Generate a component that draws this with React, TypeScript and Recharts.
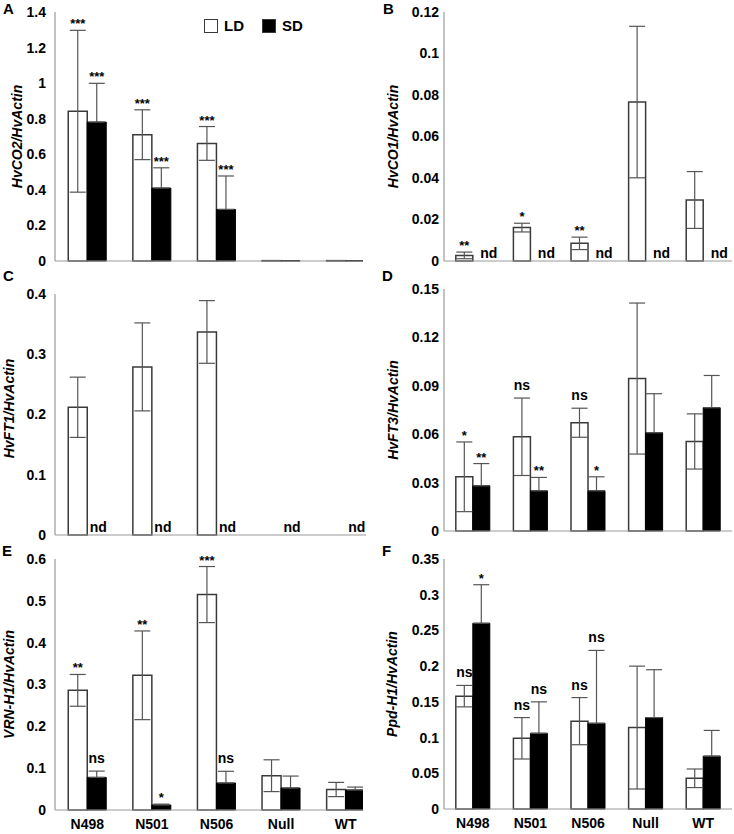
import React from "react";
import { BarChart, Bar, XAxis, YAxis, ErrorBar, LabelList, Legend } from "recharts";

const lines = ["N498", "N501", "N506", "Null", "WT"];

// A: HvCO2/HvActin
const co2LD = [0.842, 0.71, 0.661, 0.002, 0.002];
const co2LDErr = [0.455, 0.14, 0.095, 0, 0];
const co2SD = [0.781, 0.41, 0.29, 0.002, 0.002];
const co2SDErr = [0.218, 0.114, 0.188, 0, 0];
const co2LDMark = ["***", "***", "***", "", ""];
const co2SDMark = ["***", "***", "***", "", ""];
const co2Ticks = [0, 0.2, 0.4, 0.6, 0.8, 1, 1.2, 1.4];

// B: HvCO1/HvActin
const co1LD = [0.0027, 0.0161, 0.0085, 0.0766, 0.0294];
const co1LDErr = [0.0016, 0.0021, 0.003, 0.0365, 0.0137];
const co1SD = [0, 0, 0, 0, 0];
const co1SDErr = [0, 0, 0, 0, 0];
const co1LDMark = ["**", "*", "**", "", ""];
const co1SDMark = ["nd", "nd", "nd", "nd", "nd"];
const co1Ticks = [0, 0.02, 0.04, 0.06, 0.08, 0.1, 0.12];

// C: HvFT1/HvActin
const ft1LD = [0.212, 0.279, 0.337, 0, 0];
const ft1LDErr = [0.05, 0.073, 0.052, 0, 0];
const ft1SD = [0, 0, 0, 0, 0];
const ft1SDErr = [0, 0, 0, 0, 0];
const ft1LDMark = ["", "", "", "", ""];
const ft1SDMark = ["nd", "nd", "nd", "nd", "nd"];
const ft1Ticks = [0, 0.1, 0.2, 0.3, 0.4];

// D: HvFT3/HvActin
const ft3LD = [0.0336, 0.0584, 0.0671, 0.0945, 0.0555];
const ft3LDErr = [0.0216, 0.024, 0.009, 0.0468, 0.0171];
const ft3SD = [0.028, 0.0249, 0.0249, 0.0609, 0.0764];
const ft3SDErr = [0.0138, 0.0083, 0.0087, 0.0242, 0.02];
const ft3LDMark = ["*", "ns", "ns", "", ""];
const ft3SDMark = ["**", "**", "*", "", ""];
const ft3Ticks = [0, 0.03, 0.06, 0.09, 0.12, 0.15];

// E: VRN-H1/HvActin
const vrnLD = [0.286, 0.322, 0.515, 0.082, 0.049];
const vrnLDErr = [0.038, 0.106, 0.067, 0.038, 0.017];
const vrnSD = [0.078, 0.012, 0.0645, 0.0526, 0.0478];
const vrnSDErr = [0.015, 0.002, 0.028, 0.0285, 0.007];
const vrnLDMark = ["**", "**", "***", "", ""];
const vrnSDMark = ["ns", "*", "ns", "", ""];
const vrnTicks = [0, 0.1, 0.2, 0.3, 0.4, 0.5, 0.6];

// F: Ppd-H1/HvActin
const ppdLD = [0.158, 0.099, 0.123, 0.114, 0.043];
const ppdLDErr = [0.015, 0.029, 0.033, 0.086, 0.013];
const ppdSD = [0.26, 0.106, 0.12, 0.128, 0.074];
const ppdSDErr = [0.054, 0.044, 0.102, 0.067, 0.036];
const ppdLDMark = ["ns", "ns", "ns", "", ""];
const ppdSDMark = ["*", "ns", "ns", "", ""];
const ppdTicks = [0, 0.05, 0.1, 0.15, 0.2, 0.25, 0.3, 0.35];

const FONT = '"Liberation Sans", Arial, Helvetica, sans-serif';
const AXIS = "#9a9a9a";
const EDGE = "#3a3a3a";
const ERR = "#555";

type Row = {
  name: string;
  ld: number;
  ldErr: number;
  sd: number;
  sdErr: number;
  ldMark: string;
  sdMark: string;
};

function buildRows(
  ld: number[],
  ldErr: number[],
  sd: number[],
  sdErr: number[],
  ldMark: string[],
  sdMark: string[],
): Row[] {
  return lines.map((name, i) => ({
    name,
    ld: ld[i],
    ldErr: ldErr[i],
    sd: sd[i],
    sdErr: sdErr[i],
    ldMark: ldMark[i],
    sdMark: sdMark[i],
  }));
}

// significance mark placed above the error bar
function markContent(rows: Row[], series: "ld" | "sd") {
  return (props: any) => {
    const vb = props.viewBox || props;
    const x = Number(vb.x);
    const y = Number(vb.y);
    const w = Number(vb.width);
    const h = Number(vb.height);
    const row = rows[props.index];
    if (!row) return null;
    const mark = series === "ld" ? row.ldMark : row.sdMark;
    if (!mark || mark === "nd") return null;
    const v = series === "ld" ? row.ld : row.sd;
    const e = series === "ld" ? row.ldErr : row.sdErr;
    const base = y + h;
    const top = v > 0 && h > 0 ? base - ((v + e) * h) / v : base;
    const isStar = mark.startsWith("*");
    const dy = mark === "ns" ? -8 : -2;
    return (
      <text
        x={x + w / 2}
        y={top + dy}
        textAnchor="middle"
        fontFamily={FONT}
        fontSize={isStar ? 13 : 14}
        fontWeight="bold"
        fill="#000"
      >
        {mark}
      </text>
    );
  };
}

// x-axis tick that also writes "nd" on the baseline for undetected (zero) bars
function makeTick(rows: Row[], showLabel: boolean, plotBottom: number, ndDx: number) {
  return (props: any) => {
    const { x, y, payload } = props;
    const idx = props.index ?? payload?.index ?? lines.indexOf(payload?.value);
    const row = rows[idx];
    const nds: React.ReactNode[] = [];
    if (row && row.sd === 0 && row.sdMark === "nd") {
      nds.push(
        <text key="nds" x={x + ndDx} y={plotBottom - 3} textAnchor="middle" fontFamily={FONT} fontSize={14} fontWeight="bold" fill="#000">
          nd
        </text>,
      );
    }
    return (
      <g>
        {nds}
        {showLabel && (
          <text x={x} y={y} dy="0.71em" textAnchor="middle" fontFamily={FONT} fontSize={14} fontWeight="bold" fill="#000">
            {payload.value}
          </text>
        )}
      </g>
    );
  };
}

function YTitle({ text, cx, cy }: { text: string; cx: number; cy: number }) {
  return (
    <text
      x={cx}
      y={cy}
      transform={`rotate(-90 ${cx} ${cy})`}
      textAnchor="middle"
      dominantBaseline="central"
      fontFamily={FONT}
      fontSize={14}
      fontWeight="bold"
      fontStyle="italic"
      fill="#000"
    >
      {text}
    </text>
  );
}

function LegendBox() {
  const item = (fill: string, label: string) => (
    <div style={{ display: "flex", alignItems: "center", marginRight: 18 }}>
      <div
        style={{
          width: 12,
          height: 12,
          background: fill,
          border: `1.5px solid ${EDGE}`,
          marginRight: 6,
        }}
      />
      <span style={{ fontFamily: FONT, fontSize: 15, fontWeight: "bold" }}>{label}</span>
    </div>
  );
  return (
    <div style={{ display: "flex" }}>
      {item("#fff", "LD")}
      {item("#000", "SD")}
    </div>
  );
}

interface PanelProps {
  rows: Row[];
  left: number;
  top: number;
  clip: number;
  chartWidth: number;
  plotTop: number;
  plotBottom: number;
  xHeight: number;
  yWidth: number;
  domain: [number, number];
  ticks: number[];
  title: string;
  titleX: number;
  titleDy?: number;
  tickGap: number;
  ndDx: number;
  showX?: boolean;
  legend?: boolean;
}

function Panel(p: PanelProps) {
  const height = p.plotBottom + p.xHeight;
  const cy = (p.plotTop + p.plotBottom) / 2 + (p.titleDy || 0);
  return (
    <div
      style={{
        position: "absolute",
        left: p.left,
        top: p.top,
        width: p.clip,
        height,
        overflow: "hidden",
      }}
    >
      <BarChart
        width={p.chartWidth}
        height={height}
        data={p.rows}
        margin={{ top: p.plotTop, right: 0, bottom: 0, left: 0 }}
        barCategoryGap="20.5%"
        barGap={0}
      >
        <XAxis
          dataKey="name"
          axisLine={{ stroke: AXIS, strokeWidth: 1.2 }}
          tickLine={false}
          tickSize={0}
          tickMargin={9}
          height={p.xHeight}
          interval={0}
          tick={makeTick(p.rows, !!p.showX, p.plotBottom, p.ndDx)}
        />
        <YAxis
          width={p.yWidth}
          domain={p.domain}
          ticks={p.ticks}
          interval={0}
          axisLine={{ stroke: AXIS, strokeWidth: 1.2 }}
          tickLine={false}
          tickSize={0}
          tickMargin={p.tickGap}
          tick={{ fill: "#000", fontSize: 14, fontWeight: "bold", fontFamily: FONT }}
          label={<YTitle text={p.title} cx={p.titleX} cy={cy} />}
        />
        {p.legend && (
          <Legend
            layout="horizontal"
            verticalAlign="middle"
            align="center"
            content={() => <LegendBox />}
            wrapperStyle={{ top: 17, left: 204, width: "auto" }}
          />
        )}
        <Bar
          dataKey="ld"
          name="LD"
          fill="#fff"
          stroke={EDGE}
          strokeWidth={1.5}
          isAnimationActive={false}
        >
          <ErrorBar
            dataKey={(r: Row) => (r.ldErr ? r.ldErr : null)}
            width={8}
            stroke={ERR}
            strokeWidth={1.2}
            direction="y"
          />
          <LabelList dataKey="ldMark" content={markContent(p.rows, "ld")} />
        </Bar>
        <Bar
          dataKey="sd"
          name="SD"
          fill="#000"
          stroke="#000"
          strokeWidth={1}
          isAnimationActive={false}
        >
          <ErrorBar
            dataKey={(r: Row) => (r.sdErr ? [0, r.sdErr] : null)}
            width={8}
            stroke={ERR}
            strokeWidth={1.2}
            direction="y"
          />
          <LabelList dataKey="sdMark" content={markContent(p.rows, "sd")} />
        </Bar>
      </BarChart>
    </div>
  );
}

const letterStyle = (left: number, top: number): React.CSSProperties => ({
  position: "absolute",
  left,
  top,
  fontFamily: FONT,
  fontSize: 15,
  fontWeight: "bold",
  lineHeight: "15px",
});

export default function App() {
  const rowsA = buildRows(co2LD, co2LDErr, co2SD, co2SDErr, co2LDMark, co2SDMark);
  const rowsB = buildRows(co1LD, co1LDErr, co1SD, co1SDErr, co1LDMark, co1SDMark);
  const rowsC = buildRows(ft1LD, ft1LDErr, ft1SD, ft1SDErr, ft1LDMark, ft1SDMark);
  const rowsD = buildRows(ft3LD, ft3LDErr, ft3SD, ft3SDErr, ft3LDMark, ft3SDMark);
  const rowsE = buildRows(vrnLD, vrnLDErr, vrnSD, vrnSDErr, vrnLDMark, vrnSDMark);
  const rowsF = buildRows(ppdLD, ppdLDErr, ppdSD, ppdSDErr, ppdLDMark, ppdSDMark);

  const leftCol = { left: 0, clip: 366, chartWidth: 378, yWidth: 55, tickGap: 9, ndDx: 11 };
  const rightCol = { left: 367, clip: 367, chartWidth: 365, yWidth: 77, tickGap: 5, ndDx: 16 };

  return (
    <div
      style={{
        position: "absolute",
        left: 0,
        top: 0,
        width: 734,
        height: 834,
        background: "#fff",
        overflow: "hidden",
      }}
    >
      <Panel
        {...leftCol}
        clip={363}
        rows={rowsA}
        top={0}
        plotTop={12}
        plotBottom={261}
        xHeight={10}
        domain={[0, 1.4]}
        ticks={co2Ticks}
        title="HvCO2/HvActin"
        titleX={17}
        legend
      />
      <Panel
        {...rightCol}
        rows={rowsB}
        top={0}
        plotTop={12}
        plotBottom={261}
        xHeight={10}
        domain={[0, 0.12]}
        ticks={co1Ticks}
        title="HvCO1/HvActin"
        titleX={26}
      />
      <Panel
        {...leftCol}
        rows={rowsC}
        top={262}
        plotTop={32}
        plotBottom={273}
        xHeight={10}
        domain={[0, 0.4]}
        ticks={ft1Ticks}
        title="HvFT1/HvActin"
        titleX={9}
        titleDy={-6}
      />
      <Panel
        {...rightCol}
        rows={rowsD}
        top={262}
        plotTop={27}
        plotBottom={269}
        xHeight={10}
        domain={[0, 0.15]}
        ticks={ft3Ticks}
        title="HvFT3/HvActin"
        titleX={26}
      />
      <Panel
        {...leftCol}
        clip={363}
        rows={rowsE}
        top={540}
        plotTop={19}
        plotBottom={270}
        xHeight={24}
        domain={[0, 0.6]}
        ticks={vrnTicks}
        title="VRN-H1/HvActin"
        titleX={9}
        showX
      />
      <Panel
        {...rightCol}
        rows={rowsF}
        top={540}
        plotTop={19}
        plotBottom={269}
        xHeight={24}
        domain={[0, 0.35]}
        ticks={ppdTicks}
        title="Ppd-H1/HvActin"
        titleX={25}
        showX
      />
      <div style={letterStyle(3, 1)}>A</div>
      <div style={letterStyle(383, 1)}>B</div>
      <div style={letterStyle(3, 268)}>C</div>
      <div style={letterStyle(382, 268)}>D</div>
      <div style={letterStyle(2, 543)}>E</div>
      <div style={letterStyle(382, 543)}>F</div>
    </div>
  );
}
